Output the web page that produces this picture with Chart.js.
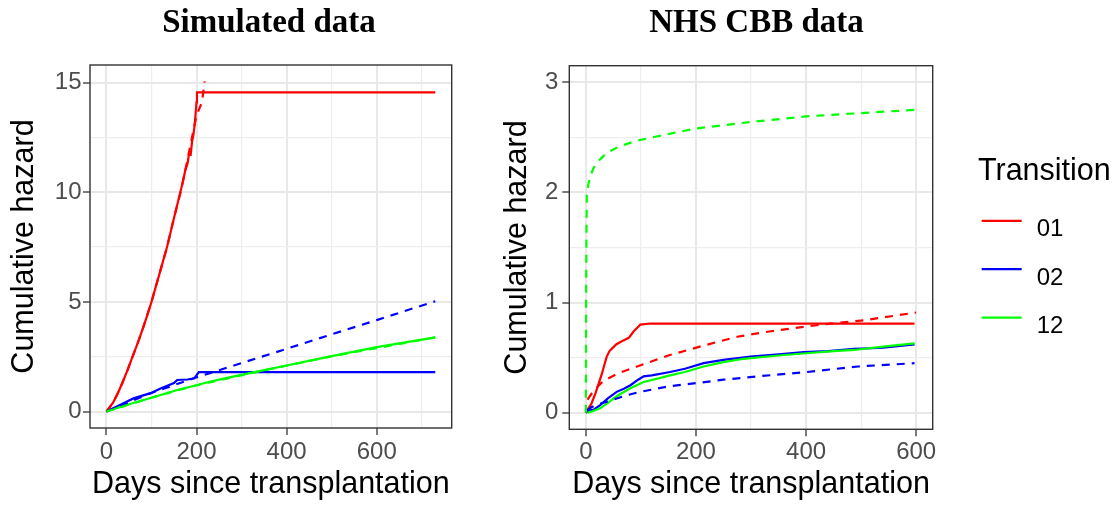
<!DOCTYPE html>
<html>
<head>
<meta charset="utf-8">
<title>Cumulative hazard by transition</title>
<script src="https://cdn.jsdelivr.net/npm/chart.js@4/dist/chart.umd.min.js"></script>
<style>
  html, body { margin: 0; padding: 0; background: #ffffff; }
  #figure { position: relative; width: 1114px; height: 506px; overflow: hidden; }
  #figure canvas { position: absolute; top: 0; }
  #simCanvas { left: 0; width: 470px; height: 506px; }
  #nhsCanvas { left: 470px; width: 644px; height: 506px; }
</style>
</head>
<body>
<div id="figure">
  <canvas id="simCanvas" width="470" height="506"></canvas>
  <canvas id="nhsCanvas" width="644" height="506"></canvas>
</div>
<script>
// Transitions shown in both panels
const transitions = ['01', '02', '12'];
const transitionColours = ['#FF0000', '#0000FF', '#00FF00'];

// Simulated data: [days, cumulative hazard]; empirical = solid, model = dashed
const simEmpirical01 = [[0,0],[15,0.42],[25,0.82],[35,1.29],[47,1.9],[58,2.5],[70,3.15],[80,3.73],[90,4.35],[100,5.0],[118,6.3],[134.5,7.5],[149,8.74],[164,10.0],[170,10.5],[175,11.0],[180,11.3],[183,11.7],[187,11.7],[190,12.3],[193,12.6],[196,13.1],[198,13.6],[200,14.1],[201,14.55],[730,14.55]];
const simModel01 = [[0,0],[15,0.42],[25,0.82],[35,1.29],[47,1.9],[58,2.5],[70,3.15],[80,3.73],[90,4.35],[100,5.0],[118,6.3],[134.5,7.5],[149,8.74],[164,9.95],[175,11.0],[185,12.0],[193,12.8],[200,13.5],[206,13.8],[212,14.1],[218,15.05]];
const simEmpirical02 = [[0,0],[30,0.3],[60,0.6],[98,0.84],[120,1.05],[150,1.3],[157,1.44],[180,1.46],[195,1.52],[200,1.65],[205,1.8],[730,1.8]];
const simModel02 = [[0,0],[100,0.85],[200,1.56],[300,2.21],[400,2.86],[500,3.52],[600,4.17],[730,5.03]];
const simEmpirical12 = [[0,0],[50,0.33],[98,0.62],[157,0.98],[200,1.2],[231,1.37],[260,1.5],[334,1.82],[400,2.1],[500,2.53],[600,2.94],[730,3.38]];
const simModel12 = [[0,0],[98,0.62],[200,1.2],[334,1.81],[500,2.52],[730,3.38]];

// NHS CBB data: [days, cumulative hazard]
const nhsEmpirical01 = [[0,0],[2,0.02],[10,0.08],[17,0.17],[23,0.26],[29,0.35],[34,0.44],[38,0.51],[43,0.56],[47,0.58],[55,0.62],[62,0.64],[70,0.66],[78,0.68],[87,0.74],[93,0.77],[99,0.8],[117,0.81],[597,0.81]];
const nhsModel01 = [[3,0.12],[10,0.17],[20,0.23],[32,0.29],[60,0.36],[93,0.42],[150,0.52],[214,0.61],[275,0.69],[336,0.74],[427,0.8],[506,0.84],[600,0.91]];
const nhsEmpirical02 = [[0,0],[5,0.02],[15,0.03],[26,0.07],[40,0.13],[56,0.19],[70,0.22],[81,0.25],[95,0.3],[105,0.33],[120,0.34],[153,0.37],[180,0.4],[214,0.45],[250,0.48],[299,0.51],[350,0.53],[396,0.55],[440,0.56],[487,0.58],[540,0.59],[597,0.62]];
const nhsModel02 = [[2,0.02],[10,0.05],[25,0.08],[50,0.12],[75,0.16],[99,0.19],[150,0.24],[202,0.27],[250,0.3],[311,0.33],[402,0.37],[494,0.42],[597,0.45]];
const nhsEmpirical12 = [[3,0],[10,0.01],[26,0.04],[40,0.09],[56,0.15],[80,0.22],[105,0.28],[130,0.31],[153,0.34],[180,0.37],[214,0.42],[250,0.46],[287,0.49],[350,0.52],[400,0.54],[450,0.56],[487,0.57],[540,0.6],[597,0.63]];
const nhsModel12 = [[0,0],[0.5,0.9],[1,1.5],[1.8,1.99],[4,2.06],[7.8,2.14],[13,2.21],[20,2.27],[38,2.36],[62,2.42],[93,2.47],[160,2.54],[200,2.58],[300,2.64],[400,2.69],[500,2.72],[600,2.75]];

// Axis ticks (labelled) and minor grid positions
const simDayTicks = [0, 200, 400, 600];
const simDayMinor = [100, 300, 500, 700];
const simHazTicks = [0, 5, 10, 15];
const simHazMinor = [2.5, 7.5, 12.5];
const nhsDayTicks = [0, 200, 400, 600];
const nhsDayMinor = [100, 300, 500];
const nhsHazTicks = [0, 1, 2, 3];
const nhsHazMinor = [0.5, 1.5, 2.5];

const SANS = "'Liberation Sans', Arial, sans-serif";
const SERIF = "'Liberation Serif', 'Times New Roman', serif";

function line(points, colour, dashed) {
  return {
    data: points.map(([x, y]) => ({ x, y })),
    borderColor: colour,
    borderWidth: 2.2,
    borderDash: dashed ? [8, 7] : [],
    borderCapStyle: 'butt',
    pointRadius: 0,
    fill: false,
    tension: 0
  };
}

// First dataset is painted last (on top)
function panelDatasets(emp, mod) {
  return [
    line(mod[2], transitionColours[2], true),
    line(mod[1], transitionColours[1], true),
    line(mod[0], transitionColours[0], true),
    line(emp[2], transitionColours[2], false),
    line(emp[1], transitionColours[1], false),
    line(emp[0], transitionColours[0], false)
  ];
}

function scaleOptions(axis, range, majors, minors, titleText, titlePadding, boxSize, labelPadding) {
  const all = majors.concat(minors).sort((a, b) => a - b);
  const isMajor = v => majors.includes(v);
  return {
    type: 'linear',
    min: range[0],
    max: range[1],
    bounds: 'data',
    afterBuildTicks: s => { s.ticks = all.map(v => ({ value: v })); },
    afterFit: s => { if (axis === 'x') { s.height = boxSize; } else { s.width = boxSize; } },
    ticks: {
      autoSkip: false,
      maxRotation: 0,
      padding: labelPadding,
      color: '#4D4D4D',
      font: { family: SANS, size: 24, lineHeight: 1.2 },
      callback: v => (isMajor(v) ? String(v) : '')
    },
    grid: {
      color: c => (c.tick && isMajor(c.tick.value) ? '#E8E8E8' : '#EEEEEE'),
      lineWidth: c => (c.tick && isMajor(c.tick.value) ? 2 : 1.2),
      tickColor: c => (c.tick && isMajor(c.tick.value) ? '#333333' : 'rgba(0,0,0,0)'),
      tickWidth: 1.3,
      tickLength: 7,
      drawTicks: true
    },
    border: { display: false },
    title: {
      display: true,
      text: titleText,
      color: '#000000',
      font: { family: SANS, size: 30.5, lineHeight: 1.2 },
      padding: titlePadding
    }
  };
}

// Dark frame round the plotting panel
const panelFrame = {
  id: 'panelFrame',
  afterDatasetsDraw(chart) {
    const { ctx, chartArea: a } = chart;
    ctx.save();
    ctx.strokeStyle = '#333333';
    ctx.lineWidth = 1.4;
    ctx.strokeRect(a.left, a.top, a.right - a.left, a.bottom - a.top);
    ctx.restore();
  }
};

// Panel heading above the frame
const panelHeading = {
  id: 'panelHeading',
  afterDraw(chart, args, opts) {
    if (!opts || !opts.text) return;
    const ctx = chart.ctx;
    ctx.save();
    ctx.fillStyle = '#000000';
    ctx.font = 'bold 33px ' + SERIF;
    ctx.textAlign = 'center';
    ctx.textBaseline = 'alphabetic';
    ctx.fillText(opts.text, opts.x, opts.baseline);
    ctx.restore();
  }
};

// Transition key beside the second panel
const transitionKey = {
  id: 'transitionKey',
  afterDraw(chart, args, opts) {
    if (!opts || !opts.show) return;
    const ctx = chart.ctx;
    ctx.save();
    ctx.fillStyle = '#000000';
    ctx.textAlign = 'left';
    ctx.textBaseline = 'alphabetic';
    ctx.font = '30.5px ' + SANS;
    ctx.fillText(opts.title, opts.x, opts.titleBaseline);
    ctx.font = '24px ' + SANS;
    transitions.forEach((label, i) => {
      const y = opts.firstLine + i * opts.step;
      ctx.strokeStyle = transitionColours[i];
      ctx.lineWidth = 2.2;
      ctx.beginPath();
      ctx.moveTo(opts.x + 3.7, y);
      ctx.lineTo(opts.x + 43.7, y);
      ctx.stroke();
      ctx.fillText(label, opts.x + 58.7, y + 15.6);
    });
    ctx.restore();
  }
};

const common = {
  responsive: false,
  animation: false,
  devicePixelRatio: 1,
  events: []
};

new Chart(document.getElementById('simCanvas'), {
  type: 'line',
  data: { datasets: panelDatasets(
    [simEmpirical01, simEmpirical02, simEmpirical12],
    [simModel01, simModel02, simModel12]) },
  options: Object.assign({}, common, {
    layout: { padding: { left: 0, top: 65, right: 18.3, bottom: 0 } },
    scales: {
      x: scaleOptions('x', [-36.5, 766.5], simDayTicks, simDayMinor,
        'Days since transplantation', { top: 0, bottom: 3.3 }, 78, 2.5),
      y: scaleOptions('y', [-0.75, 15.8], simHazTicks, simHazMinor,
        'Cumulative hazard', { top: 6.1, bottom: 0 }, 90, 1.5)
    },
    plugins: {
      legend: { display: false },
      tooltip: { enabled: false },
      panelHeading: { text: 'Simulated data', x: 269, baseline: 31.7 }
    }
  }),
  plugins: [panelFrame, panelHeading]
});

new Chart(document.getElementById('nhsCanvas'), {
  type: 'line',
  data: { datasets: panelDatasets(
    [nhsEmpirical01, nhsEmpirical02, nhsEmpirical12],
    [nhsModel01, nhsModel02, nhsModel12]) },
  options: Object.assign({}, common, {
    layout: { padding: { left: 0, top: 65.7, right: 181.3, bottom: 0 } },
    scales: {
      x: scaleOptions('x', [-30, 630], nhsDayTicks, nhsDayMinor,
        'Days since transplantation', { top: 0, bottom: 3.3 }, 76.7, 2),
      y: scaleOptions('y', [-0.15, 3.15], nhsHazTicks, nhsHazMinor,
        'Cumulative hazard', { top: 29.4, bottom: 0 }, 99.3, 4)
    },
    plugins: {
      legend: { display: false },
      tooltip: { enabled: false },
      panelHeading: { text: 'NHS CBB data', x: 286.5, baseline: 31.7 },
      transitionKey: { show: true, title: 'Transition', x: 508, titleBaseline: 180, firstLine: 220.8, step: 48.4 }
    }
  }),
  plugins: [panelFrame, panelHeading, transitionKey]
});
</script>
</body>
</html>
